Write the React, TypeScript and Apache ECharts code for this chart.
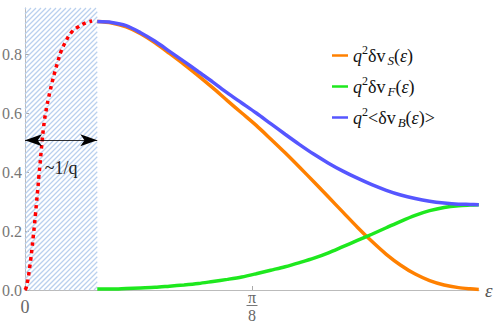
import React, { useEffect, useRef } from "react";
import * as echarts from "echarts";

// ---- data ----
const epsMain = [0.125, 0.15, 0.175, 0.2, 0.225, 0.25, 0.275, 0.3, 0.325, 0.35, 0.375, 0.4, 0.425, 0.45, 0.475, 0.5, 0.525, 0.55, 0.575, 0.6, 0.625, 0.65, 0.675, 0.7, 0.725, 0.75, 0.77, 0.785];
const valS = [0.91, 0.905, 0.892, 0.869, 0.838, 0.802, 0.765, 0.726, 0.685, 0.642, 0.6, 0.558, 0.512, 0.465, 0.416, 0.366, 0.315, 0.264, 0.213, 0.165, 0.121, 0.084, 0.054, 0.032, 0.017, 0.008, 0.004, 0.002];
const valF = [0.003, 0.003, 0.005, 0.007, 0.009, 0.013, 0.017, 0.022, 0.029, 0.036, 0.044, 0.055, 0.067, 0.079, 0.093, 0.108, 0.126, 0.147, 0.168, 0.189, 0.211, 0.233, 0.253, 0.269, 0.28, 0.286, 0.288, 0.289];
const valB = [0.91, 0.907, 0.896, 0.872, 0.843, 0.809, 0.775, 0.74, 0.705, 0.668, 0.634, 0.6, 0.564, 0.528, 0.493, 0.46, 0.43, 0.403, 0.379, 0.357, 0.338, 0.322, 0.31, 0.301, 0.295, 0.291, 0.29, 0.289];

const epsRed = [0, 0.002, 0.004, 0.006, 0.008, 0.01, 0.012, 0.014, 0.016, 0.018, 0.02, 0.022, 0.024, 0.026, 0.028, 0.03, 0.032, 0.034, 0.036, 0.038, 0.04, 0.043, 0.047, 0.052, 0.057, 0.062, 0.069, 0.081, 0.092, 0.104, 0.116];
const valRed = [0, 0.008, 0.025, 0.047, 0.075, 0.105, 0.139, 0.176, 0.214, 0.254, 0.298, 0.339, 0.386, 0.427, 0.471, 0.512, 0.549, 0.58, 0.603, 0.625, 0.644, 0.671, 0.705, 0.742, 0.776, 0.807, 0.837, 0.875, 0.892, 0.905, 0.912];

const hatchEnd = 0.125; // ~1/q
const arrowY = 0.508;
const yTicks = [0, 0.2, 0.4, 0.6, 0.8];
const xTicks = [0, Math.PI / 8];
const xMax = Math.PI / 4;
const yMax = 0.956;

const seriesNames = ["q²δv_S(ε)", "q²δv_F(ε)", "q²<δv_B(ε)>"];
const legendRich: Record<string, string> = {
  "q²δv_S(ε)": "{i|q}{sup|2}{n|δv}{sub|S}{n|(}{i|ε}{n|)}",
  "q²δv_F(ε)": "{i|q}{sup|2}{n|δv}{sub|F}{n|(}{i|ε}{n|)}",
  "q²<δv_B(ε)>": "{i|q}{sup|2}{n|<δv}{sub|B}{n|(}{i|ε}{n|)>}",
};

const SERIF = "'Liberation Serif', 'DejaVu Serif', serif";

export default function App() {
  const ref = useRef<HTMLDivElement>(null);
  useEffect(() => {
    if (!ref.current) return;
    const chart = echarts.init(ref.current, null, { renderer: "svg" });
    const pair = (xs: number[], ys: number[]) => xs.map((x, i) => [x, ys[i]]);
    chart.setOption({
      animation: false,
      backgroundColor: "#fff",
      grid: { left: 25, right: 19, top: 8, bottom: 37, containLabel: false, outerBoundsMode: "none" },
      legend: {
        orient: "vertical",
        left: 327,
        top: 39,
        itemWidth: 16,
        itemHeight: 2.5,
        itemGap: 8,
        icon: "rect",
        data: seriesNames,
        formatter: (name: string) => legendRich[name],
        textStyle: {
          fontFamily: SERIF,
          fontSize: 18,
          color: "#111",
          rich: {
            i: { fontFamily: SERIF, fontSize: 18, fontStyle: "italic", color: "#111", lineHeight: 23 },
            n: { fontFamily: SERIF, fontSize: 18, color: "#111", lineHeight: 23 },
            sup: { fontFamily: SERIF, fontSize: 12, color: "#111", verticalAlign: "top", lineHeight: 12 },
            sub: { fontFamily: SERIF, fontSize: 13, fontStyle: "italic", color: "#111", verticalAlign: "bottom", lineHeight: 13, padding: [0, 0, 0, 2] },
          },
        },
      },
      xAxis: {
        type: "value",
        min: 0,
        max: xMax,
        name: "ε",
        nameLocation: "end",
        nameGap: 6,
        nameTextStyle: { fontFamily: SERIF, fontSize: 19, fontStyle: "italic", color: "#555", verticalAlign: "middle" },
        splitLine: { show: false },
        axisLine: { show: true, lineStyle: { color: "#bbb", width: 1 } },
        axisTick: { show: true, inside: true, length: 4, customValues: xTicks, lineStyle: { color: "#aaa" } },
        axisLabel: {
          customValues: xTicks,
          margin: 17,
          verticalAlign: "middle",
          color: "#666",
          fontFamily: SERIF,
          fontSize: 16,
          formatter: (v: number) => (Math.abs(v) < 1e-9 ? "{z|0}" : "{pi|π}\n{bar|}\n{d|8}"),
          rich: {
            z: { fontFamily: SERIF, fontSize: 18, color: "#666", lineHeight: 14 },
            pi: { fontFamily: SERIF, fontSize: 16, color: "#666", lineHeight: 13, align: "center" },
            bar: { width: 11, height: 1, backgroundColor: "#777", lineHeight: 3, align: "center" },
            d: { fontFamily: SERIF, fontSize: 16, color: "#666", lineHeight: 16, align: "center" },
          },
        },
      },
      yAxis: {
        type: "value",
        min: 0,
        max: yMax,
        splitLine: { show: false },
        axisLine: { show: true, lineStyle: { color: "#bbb", width: 1 } },
        axisTick: { show: true, inside: true, length: 4, customValues: yTicks, lineStyle: { color: "#aaa" } },
        axisLabel: {
          customValues: yTicks,
          margin: 3,
          color: "#777",
          fontFamily: SERIF,
          fontSize: 16,
          formatter: (v: number) => v.toFixed(1),
        },
      },
      series: [
        {
          name: "hatchArea",
          type: "custom",
          silent: true,
          z: 1,
          data: [[0, hatchEnd]],
          renderItem: (_params: any, api: any) => {
            const p0 = api.coord([api.value(0), 0]);
            const p1 = api.coord([api.value(1), yMax]);
            const x0 = p0[0], x1 = p1[0], y0 = p1[1], y1 = p0[1];
            const step = 5;
            const children: any[] = [];
            for (let c = x0 + y0 + 1; c < x1 + y1; c += step) {
              const ax = Math.max(x0, c - y1);
              const bx = Math.min(x1, c - y0);
              if (bx <= ax) continue;
              children.push({
                type: "line",
                shape: { x1: ax, y1: c - ax, x2: bx, y2: c - bx },
                style: { stroke: "#b9d0ee", lineWidth: 1.3 },
              });
            }
            return { type: "group", children };
          },
        },
        {
          name: "ramp",
          type: "line",
          data: pair(epsRed, valRed),
          showSymbol: false,
          smooth: true,
          z: 4,
          lineStyle: { color: "#ff0000", width: 3.5, type: [3.5, 4], cap: "butt" },
          markLine: {
            silent: true,
            symbol: ["arrow", "arrow"],
            symbolSize: [9, 17],
            lineStyle: { color: "#000", width: 0.8, type: "solid" },
            label: {
              show: true,
              position: "insideMiddleBottom",
              formatter: "~1/q",
              distance: 19,
              fontFamily: SERIF,
              fontSize: 18,
              color: "#222",
            },
            data: [[{ coord: [0, arrowY] }, { coord: [hatchEnd, arrowY] }]],
          },
        },
        {
          name: seriesNames[0],
          type: "line",
          data: pair(epsMain, valS),
          showSymbol: false,
          smooth: 0.3,
          color: "#ff8000",
          lineStyle: { color: "#ff8000", width: 3.5 },
          z: 5,
        },
        {
          name: seriesNames[1],
          type: "line",
          data: pair(epsMain, valF),
          showSymbol: false,
          smooth: 0.3,
          color: "#1ee81e",
          lineStyle: { color: "#1ee81e", width: 3.5 },
          z: 6,
        },
        {
          name: seriesNames[2],
          type: "line",
          data: pair(epsMain, valB),
          showSymbol: false,
          smooth: 0.3,
          color: "#5656ff",
          lineStyle: { color: "#5656ff", width: 3.5 },
          z: 7,
        },
      ],
    });
    return () => chart.dispose();
  }, []);
  return <div ref={ref} style={{ position: "fixed", left: 0, top: 0, width: 498, height: 327 }} />;
}
